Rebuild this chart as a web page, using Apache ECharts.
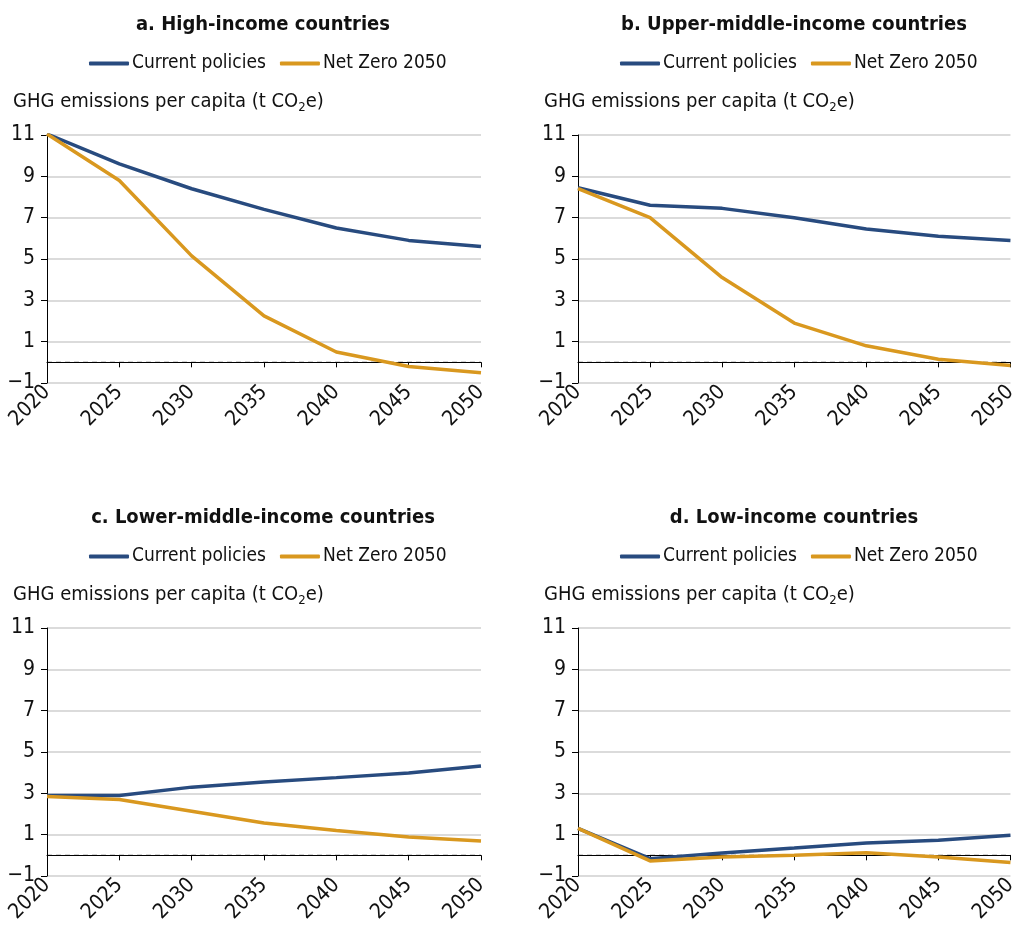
<!DOCTYPE html>
<html>
<head>
<meta charset="utf-8">
<script src="https://cdn.jsdelivr.net/npm/echarts@6/dist/echarts.min.js"></script>
<style>
  html, body { margin: 0; padding: 0; background: #fff; }
  #chart { width: 1020px; height: 939px; }
</style>
</head>
<body>
<div id="chart"></div>
<script>
var years = ['2020', '2025', '2030', '2035', '2040', '2045', '2050'];
var panelTitles = ['a. High-income countries', 'b. Upper-middle-income countries',
                   'c. Lower-middle-income countries', 'd. Low-income countries'];
var seriesNames = ['Current policies', 'Net Zero 2050'];

var currentHigh = [11.05, 9.6, 8.4, 7.4, 6.5, 5.9, 5.6];
var netZeroHigh = [11.05, 8.8, 5.15, 2.25, 0.5, -0.2, -0.5];
var currentUpperMid = [8.45, 7.6, 7.45, 7.0, 6.45, 6.1, 5.9];
var netZeroUpperMid = [8.4, 7.0, 4.1, 1.9, 0.8, 0.15, -0.15];
var currentLowerMid = [2.9, 2.9, 3.3, 3.55, 3.76, 3.98, 4.32];
var netZeroLowerMid = [2.85, 2.7, 2.13, 1.56, 1.2, 0.89, 0.69];
var currentLow = [1.3, -0.16, 0.11, 0.35, 0.6, 0.73, 0.97];
var netZeroLow = [1.3, -0.27, -0.08, 0.0, 0.13, -0.08, -0.35];
var zeroLine = [0, 0, 0, 0, 0, 0, 0];

var panelData = [
  [currentHigh, netZeroHigh],
  [currentUpperMid, netZeroUpperMid],
  [currentLowerMid, netZeroLowerMid],
  [currentLow, netZeroLow]
];

var FONT = "'DejaVu Sans Condensed', 'Liberation Sans Narrow', sans-serif";
var BLUE = '#284b7f';
var ORANGE = '#d9981f';

// plot area corners for the four panels
var boxes = [[47, 135], [578, 135], [47, 628], [578, 628]];
var plotW = 434, plotH = 248;

var titles = [], legends = [], grids = [], xAxes = [], yAxes = [], series = [];

boxes.forEach(function (b, i) {
  var cx = b[0] + plotW / 2 - 6;
  titles.push({
    text: panelTitles[i],
    left: cx, top: b[1] - 125,
    textAlign: 'center',
    textStyle: { fontFamily: FONT, fontSize: 20, fontWeight: 'bold', color: '#111' }
  });
  titles.push({
    text: 'GHG emissions per capita (t CO{sub|2}e)',
    left: b[0] - 39, top: b[1] - 51,
    textStyle: {
      fontFamily: FONT, fontSize: 20, fontWeight: 'normal', color: '#111',
      rich: { sub: { fontFamily: FONT, fontSize: 13, color: '#111', padding: [12, 0, 0, 0] } }
    }
  });
  legends.push({
    data: seriesNames,
    left: b[0] + 37, top: b[1] - 86,
    icon: 'roundRect',
    itemWidth: 40, itemHeight: 4, itemGap: 14,
    textStyle: { fontFamily: FONT, fontSize: 19, color: '#111', padding: [0, 0, 0, -2] }
  });
  grids.push({ left: b[0], top: b[1], width: plotW, height: plotH });
  xAxes.push({
    type: 'category', gridIndex: i, data: years, boundaryGap: false,
    axisLine: { lineStyle: { color: '#000', width: 1 } },
    axisTick: { show: true, length: 5, lineStyle: { color: '#000' } },
    axisLabel: { rotate: 45, fontFamily: FONT, fontSize: 21, color: '#111', margin: 6 },
    splitLine: { show: false }
  });
  yAxes.push({
    type: 'value', gridIndex: i, min: -1, max: 11, interval: 2,
    axisLine: { show: true, lineStyle: { color: '#000', width: 1 } },
    axisTick: { show: true, length: 6, lineStyle: { color: '#000' } },
    axisLabel: {
      fontFamily: FONT, fontSize: 21, color: '#111', margin: 12,
      formatter: function (v) { return v < 0 ? '\u2212' + Math.abs(v) : String(v); }
    },
    splitLine: { show: true, lineStyle: { color: '#cfcfcf', width: 1.5 } }
  });
  series.push({
    name: 'zero', type: 'line', xAxisIndex: i, yAxisIndex: i,
    data: zeroLine, symbol: 'none', z: 2, silent: true,
    lineStyle: { color: '#000', width: 1, type: [5, 4] }
  });
  series.push({
    name: seriesNames[0], type: 'line', xAxisIndex: i, yAxisIndex: i,
    data: panelData[i][0], symbol: 'none', z: 3,
    lineStyle: { color: BLUE, width: 3.5 }, itemStyle: { color: BLUE }
  });
  series.push({
    name: seriesNames[1], type: 'line', xAxisIndex: i, yAxisIndex: i,
    data: panelData[i][1], symbol: 'none', z: 4,
    lineStyle: { color: ORANGE, width: 3.5 }, itemStyle: { color: ORANGE }
  });
});

var chart = echarts.init(document.getElementById('chart'));
chart.setOption({
  backgroundColor: '#fff',
  animation: false,
  title: titles,
  legend: legends,
  grid: grids,
  xAxis: xAxes,
  yAxis: yAxes,
  series: series
});
</script>
</body>
</html>
